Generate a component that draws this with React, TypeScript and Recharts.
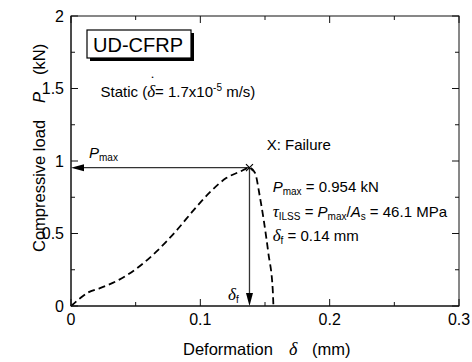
import {
  ComposedChart,
  Line,
  Scatter,
  XAxis,
  YAxis,
  ReferenceLine,
} from "recharts";

// Load-deformation curve
const deformation = [
  0, 0.007, 0.013, 0.022, 0.037, 0.051, 0.066, 0.082, 0.095, 0.108, 0.12,
  0.131, 0.138, 0.1423, 0.146, 0.149, 0.1526, 0.156, 0.1565,
];
const load = [
  0, 0.053, 0.092, 0.122, 0.18, 0.26, 0.375, 0.525, 0.663, 0.79, 0.882, 0.928,
  0.954, 0.917, 0.755, 0.594, 0.364, 0.11, 0,
];

const xMajorTicks = [0, 0.1, 0.2, 0.3];
const xMinorTicks = [0.05, 0.15, 0.25];
const yMajorTicks = [0, 0.5, 1, 1.5, 2];
const yMinorTicks = [0.25, 0.75, 1.25, 1.75];

const xDomain = [0, 0.3];
const yDomain = [0, 2];

const failureDeformation = 0.138;
const failureLoad = 0.954;

const isMajor = (v: number, majors: number[]) =>
  majors.some((m) => Math.abs(m - v) < 1e-9);

const curveData = deformation.map((x, i) => ({ x, p: load[i] }));
const failureData = [{ x: failureDeformation, p: failureLoad }];
const xTicks = [...xMajorTicks, ...xMinorTicks].sort((a, b) => a - b);
const yTicks = [...yMajorTicks, ...yMinorTicks].sort((a, b) => a - b);

// plot box (same numbers feed the chart margins / axis sizes)
const W = 472;
const H = 362;
const PLOT = { left: 71, top: 16, right: 459, bottom: 306 };

const AXIS = "#111";
const ARROW = "#333";
const FONT = '"Liberation Sans", Arial, sans-serif';
const SERIF = '"Liberation Serif", "Times New Roman", serif';
const MAJOR = 7;
const MINOR = 4;

function BottomLabel({ x, y, payload }: any) {
  if (!isMajor(payload.value, xMajorTicks)) return <g />;
  return (
    <text x={x} y={y + 19} textAnchor="middle" fontSize={16} fontFamily={FONT} fill="#000">
      {String(payload.value)}
    </text>
  );
}

function LeftLabel({ x, y, payload }: any) {
  if (!isMajor(payload.value, yMajorTicks)) return <g />;
  return (
    <text x={x - 7} y={y + 5.5} textAnchor="end" fontSize={16} fontFamily={FONT} fill="#000">
      {String(payload.value)}
    </text>
  );
}

// box frame with inward ticks on all four sides
function Frame() {
  const sx = (v: number) =>
    PLOT.left + ((v - xDomain[0]) / (xDomain[1] - xDomain[0])) * (PLOT.right - PLOT.left);
  const sy = (v: number) =>
    PLOT.bottom - ((v - yDomain[0]) / (yDomain[1] - yDomain[0])) * (PLOT.bottom - PLOT.top);
  return (
    <g stroke={AXIS} strokeWidth={1} fill="none">
      <rect
        x={PLOT.left}
        y={PLOT.top}
        width={PLOT.right - PLOT.left}
        height={PLOT.bottom - PLOT.top}
      />
      {xTicks.map((v) => {
        const len = isMajor(v, xMajorTicks) ? MAJOR : MINOR;
        const x = sx(v);
        return (
          <g key={`x${v}`}>
            <line x1={x} y1={PLOT.bottom} x2={x} y2={PLOT.bottom - len} />
            <line x1={x} y1={PLOT.top} x2={x} y2={PLOT.top + len} />
          </g>
        );
      })}
      {yTicks.map((v) => {
        const len = isMajor(v, yMajorTicks) ? MAJOR : MINOR;
        const y = sy(v);
        return (
          <g key={`y${v}`}>
            <line x1={PLOT.left} y1={y} x2={PLOT.left + len} y2={y} />
            <line x1={PLOT.right} y1={y} x2={PLOT.right - len} y2={y} />
          </g>
        );
      })}
    </g>
  );
}

// arrow with head at the end nearest the axis
function arrowShape(kind: "left" | "down") {
  return (props: any) => {
    const { x1, y1, x2, y2 } = props;
    if (kind === "left") {
      const tip = Math.min(x1, x2);
      const tail = Math.max(x1, x2);
      return (
        <g>
          <line x1={tail} y1={y1} x2={tip + 10} y2={y1} stroke={ARROW} strokeWidth={1.3} />
          <polygon points={`${tip},${y1} ${tip + 13},${y1 - 3.5} ${tip + 13},${y1 + 3.5}`} fill="#000" />
        </g>
      );
    }
    const tip = Math.max(y1, y2);
    const tail = Math.min(y1, y2);
    return (
      <g>
        <line x1={x1} y1={tail} x2={x1} y2={tip - 10} stroke={ARROW} strokeWidth={1.3} />
        <polygon points={`${x1},${tip} ${x1 - 3.5},${tip - 13} ${x1 + 3.5},${tip - 13}`} fill="#000" />
      </g>
    );
  };
}

function CrossMark({ cx, cy }: any) {
  const s = 3.5;
  return (
    <g stroke="#000" strokeWidth={1.2}>
      <line x1={cx - s} y1={cy - s} x2={cx + s} y2={cy + s} />
      <line x1={cx - s} y1={cy + s} x2={cx + s} y2={cy - s} />
    </g>
  );
}

function Annotations() {
  const sub = { fontSize: 10 };
  return (
    <g fontFamily={FONT} fill="#000">
      {/* specimen box with drop shadow */}
      <rect x={90} y={33} width={104} height={28} fill="#000" />
      <rect x={87} y={30} width={104} height={28} fill="#fff" stroke="#000" strokeWidth={1.2} />
      <text x={93} y={51.7} fontSize={20}>UD-CFRP</text>

      <text x={100.5} y={96.7} fontSize={15}>
        {"Static ("}
        <tspan fontFamily={SERIF} fontStyle="italic" fontSize={17}>{"\u03B4"}</tspan>
        <tspan fontFamily={SERIF} dx={-5} dy={-11}>{"\u02D9"}</tspan>
        <tspan dy={11}>{"= 1.7x10"}</tspan>
        <tspan fontSize={10} dy={-6}>-5</tspan>
        <tspan dy={6}>{" m/s)"}</tspan>
      </text>

      <text x={266.7} y={150} fontSize={15}>X: Failure</text>

      <text x={89} y={158.3} fontSize={15}>
        <tspan fontStyle="italic">P</tspan>
        <tspan {...sub} dy={3}>max</tspan>
      </text>

      <text x={272.7} y={191.7} fontSize={15}>
        <tspan fontStyle="italic">P</tspan>
        <tspan {...sub} dy={3}>max</tspan>
        <tspan dy={-3}>{" = 0.954 kN"}</tspan>
      </text>

      <text x={272.7} y={216.7} fontSize={15}>
        <tspan fontFamily={SERIF} fontStyle="italic" fontSize={17}>{"\u03C4"}</tspan>
        <tspan {...sub} dy={3}>ILSS</tspan>
        <tspan dy={-3}>{" = "}</tspan>
        <tspan fontStyle="italic">P</tspan>
        <tspan {...sub} dy={3}>max</tspan>
        <tspan dy={-3}>/</tspan>
        <tspan fontStyle="italic">A</tspan>
        <tspan {...sub} dy={3}>s</tspan>
        <tspan dy={-3}>{" = 46.1 MPa"}</tspan>
      </text>

      <text x={272.7} y={241} fontSize={15}>
        <tspan fontFamily={SERIF} fontStyle="italic" fontSize={17}>{"\u03B4"}</tspan>
        <tspan {...sub} dy={3}>f</tspan>
        <tspan dy={-3}>{" = 0.14 mm"}</tspan>
      </text>

      <text x={228} y={300} fontSize={15}>
        <tspan fontFamily={SERIF} fontStyle="italic" fontSize={17}>{"\u03B4"}</tspan>
        <tspan {...sub} dy={3}>f</tspan>
      </text>

      {/* axis titles */}
      <text y={355} fontSize={16.5}>
        <tspan x={183}>Deformation</tspan>
        <tspan x={289} fontFamily={SERIF} fontStyle="italic" fontSize={18}>{"\u03B4"}</tspan>
        <tspan x={312}>(mm)</tspan>
      </text>
      <text transform="rotate(-90)" x={-252} y={45} fontSize={16.5}>
        Compressive load
        <tspan dx={17} fontStyle="italic">P</tspan>
        <tspan dx={17}>(kN)</tspan>
      </text>
    </g>
  );
}

export default function App() {
  return (
    <div style={{ position: "absolute", left: 0, top: 0, width: W, height: H, background: "#fff" }}>
      <ComposedChart
        width={W}
        height={H}
        margin={{ top: PLOT.top, right: W - PLOT.right, bottom: 0, left: 0 }}
      >
        <XAxis
          type="number"
          dataKey="x"
          domain={xDomain}
          ticks={xTicks}
          interval={0}
          tickSize={0}
          tickMargin={0}
          tickLine={false}
          axisLine={{ stroke: AXIS }}
          tick={BottomLabel}
          height={H - PLOT.bottom}
        />
        <YAxis
          type="number"
          domain={yDomain}
          ticks={yTicks}
          interval={0}
          tickSize={0}
          tickMargin={0}
          tickLine={false}
          axisLine={{ stroke: AXIS }}
          tick={LeftLabel}
          width={PLOT.left}
        />
        <ReferenceLine
          segment={[
            { x: failureDeformation, y: failureLoad },
            { x: 0, y: failureLoad },
          ]}
          shape={arrowShape("left")}
        />
        <ReferenceLine
          segment={[
            { x: failureDeformation, y: failureLoad },
            { x: failureDeformation, y: 0 },
          ]}
          shape={arrowShape("down")}
        />
        <Line
          data={curveData}
          dataKey="p"
          type="monotone"
          stroke="#000"
          strokeWidth={1.8}
          strokeDasharray="7 4"
          dot={false}
          activeDot={false}
          isAnimationActive={false}
        />
        <Scatter
          data={failureData}
          dataKey="p"
          shape={CrossMark}
          isAnimationActive={false}
        />
        <Frame />
        <Annotations />
      </ComposedChart>
    </div>
  );
}
